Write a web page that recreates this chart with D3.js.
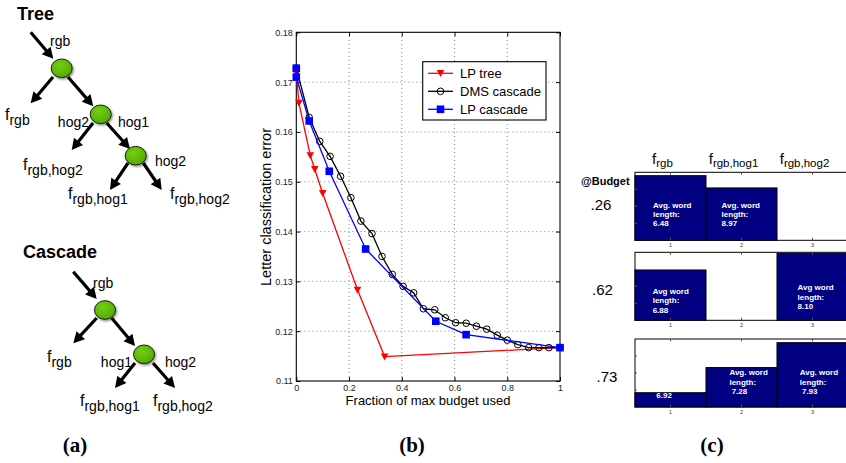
<!DOCTYPE html>
<html><head><meta charset="utf-8">
<script src="https://cdn.jsdelivr.net/npm/d3@7"></script>
<style>
html,body{margin:0;padding:0;background:#fff;}
svg{display:block;font-family:"Liberation Sans",Arial,Helvetica,sans-serif;}
</style></head><body>
<svg id="fig" width="846" height="463"></svg>
<script>
// ================= DATA =================
// Panel (b): error vs. fraction of max budget
const budgetTicks = [0, 0.2, 0.4, 0.6, 0.8, 1];
const budgetTickLabels = ["0", "0.2", "0.4", "0.6", "0.8", "1"];
const errorTicks = [0.11, 0.12, 0.13, 0.14, 0.15, 0.16, 0.17, 0.18];
const errorTickLabels = ["0.11", "0.12", "0.13", "0.14", "0.15", "0.16", "0.17", "0.18"];
const seriesNames = ["LP tree", "DMS cascade", "LP cascade"];
const lpTreeX = [0, 0.010, 0.053, 0.070, 0.100, 0.232, 0.335, 1.0];
const lpTreeY = [0.1717, 0.1658, 0.1553, 0.1525, 0.1477, 0.1283, 0.1149, 0.1167];
const dmsX = [0, 0.049, 0.089, 0.128, 0.168, 0.207, 0.245, 0.287, 0.325, 0.364, 0.405, 0.445, 0.482,
              0.525, 0.565, 0.604, 0.644, 0.683, 0.722, 0.762, 0.800, 0.840, 0.881, 0.920, 0.958, 1.0];
const dmsY = [0.1728, 0.1629, 0.1581, 0.1551, 0.1511, 0.1468, 0.1421, 0.1396, 0.1350, 0.1314, 0.1290, 0.1277, 0.1245,
              0.1243, 0.1227, 0.1217, 0.1216, 0.1210, 0.1204, 0.1192, 0.1182, 0.1173, 0.1167, 0.1167, 0.1167, 0.1167];
const lpCascadeX = [0, 0, 0.049, 0.125, 0.263, 0.529, 0.644, 1.0];
const lpCascadeY = [0.1728, 0.1710, 0.1622, 0.1521, 0.1365, 0.1220, 0.1193, 0.1167];

// Panel (c): fraction of examples reaching each leaf at three budgets
const leafCategories = [1, 2, 3];
const leafSubscripts = ["rgb", "rgb,hog1", "rgb,hog2"];
const budgetLabels = [".26", ".62", ".73"];
const leafFrac26 = [0.95, 0.77, 0];
const leafFrac62 = [0.74, 0, 0.985];
const leafFrac73 = [0.21, 0.58, 0.946];
const wordText26 = [["Avg. word", "length:", "6.48"], ["Avg. word", "length:", "8.97"], null];
const wordText62 = [["Avg word", "length:", "6.88"], null, ["Avg word", "length:", "8.10"]];
const wordText73 = [["6.92"], ["Avg. word", "length:", " 7.28"], ["Avg. word", "length:", " 7.93"]];

// Panel (a): diagram structure
const treeNodes = [{id:"t1", x:61.7, y:68.3}, {id:"t2", x:100.7, y:114.3}, {id:"t3", x:135.7, y:155.7}];
const cascNodes = [{id:"c1", x:105, y:310}, {id:"c2", x:144, y:354.3}];

// ================= LAYOUT =================
const svg = d3.select("#fig");
const FONT = '"Liberation Sans",Arial,Helvetica,sans-serif';
const SERIF = '"Liberation Serif","DejaVu Serif",serif';

// ---------- Panel (a) ----------
const gA = svg.append("g");
const arrowsA = [
  [30.7, 32.3, 53.3, 58.8], [53, 77, 30.7, 103.3], [68, 77, 93.3, 106.2],
  [93, 123, 71.7, 150], [106.7, 123, 130, 149], [128, 163, 110, 190], [143.3, 163, 161.7, 190],
  [73.3, 271.7, 96.7, 299], [96.7, 318, 73.3, 343.3], [111.7, 318, 135, 346],
  [135, 363, 115, 388], [153, 363, 175, 388]
];
function arrow(g, a) {
  const [x1, y1, x2, y2] = a;
  const dx = x2 - x1, dy = y2 - y1, L = Math.hypot(dx, dy);
  const ux = dx / L, uy = dy / L, hl = 11, hw = 5.8;
  const bx = x2 - ux * hl, by = y2 - uy * hl;
  g.append("line").attr("x1", x1).attr("y1", y1).attr("x2", bx + ux).attr("y2", by + uy)
    .attr("stroke", "#000").attr("stroke-width", 3.2);
  g.append("path").attr("d", `M${x2},${y2}L${bx - uy * hw},${by + ux * hw}L${bx + uy * hw},${by - ux * hw}Z`)
    .attr("fill", "#000");
}
arrowsA.forEach(a => arrow(gA, a));
const defs = svg.append("defs");
const flt = defs.append("filter").attr("id", "shadow").attr("x", "-50%").attr("y", "-50%").attr("width", "200%").attr("height", "200%");
flt.append("feDropShadow").attr("dx", 1.2).attr("dy", 1.5).attr("stdDeviation", 1.3).attr("flood-color", "#000").attr("flood-opacity", 0.45);
const grad = defs.append("radialGradient").attr("id", "nodeFill").attr("cx", "40%").attr("cy", "35%").attr("r", "70%");
grad.append("stop").attr("offset", "0%").attr("stop-color", "#74d010");
grad.append("stop").attr("offset", "100%").attr("stop-color", "#52a800");
gA.selectAll("ellipse.node").data(treeNodes.concat(cascNodes)).join("ellipse")
  .attr("cx", d => d.x).attr("cy", d => d.y).attr("rx", 10.5).attr("ry", 9.3)
  .attr("fill", "url(#nodeFill)").attr("stroke", "#1a1a1a").attr("stroke-width", 1)
  .attr("filter", "url(#shadow)");

function plain(g, x, y, t, size, anchor) {
  g.append("text").attr("x", x).attr("y", y).attr("font-size", size).attr("text-anchor", anchor || "start")
    .attr("font-family", FONT).attr("fill", "#000").text(t);
}
function fsub(g, x, y, sub, fSize, sSize, shift, anchor) {
  const t = g.append("text").attr("x", x).attr("y", y).attr("font-family", FONT).attr("fill", "#000")
    .attr("text-anchor", anchor || "start");
  t.append("tspan").attr("font-size", fSize).text("f");
  t.append("tspan").attr("font-size", sSize).attr("dy", shift).text(sub);
}
gA.append("text").attr("x", 17).attr("y", 20).attr("font-size", 18).attr("font-weight", "bold")
  .attr("font-family", FONT).text("Tree");
plain(gA, 50, 46, "rgb", 14);
fsub(gA, 5, 120, "rgb", 16, 14, 5);
plain(gA, 89, 127, "hog2", 14, "end");
plain(gA, 118, 127, "hog1", 14);
fsub(gA, 23, 170, "rgb,hog2", 16, 14, 5);
plain(gA, 155, 166, "hog2", 14);
fsub(gA, 68, 199, "rgb,hog1", 16, 14, 5);
fsub(gA, 170, 199, "rgb,hog2", 16, 14, 5);

gA.append("text").attr("x", 23).attr("y", 258).attr("font-size", 18).attr("font-weight", "bold")
  .attr("font-family", FONT).text("Cascade");
plain(gA, 93, 288, "rgb", 14);
fsub(gA, 47, 362, "rgb", 16, 14, 5);
plain(gA, 132, 367, "hog1", 14, "end");
plain(gA, 165, 367, "hog2", 14);
fsub(gA, 80, 406, "rgb,hog1", 16, 14, 5);
fsub(gA, 153, 406, "rgb,hog2", 16, 14, 5);

// ---------- Panel (b) ----------
const gB = svg.append("g");
const xB = d3.scaleLinear().domain([0, 1]).range([296.3, 560]);
const yB = d3.scaleLinear().domain([0.11, 0.18]).range([381, 32.3]);
// grid
gB.append("g").selectAll("line").data(budgetTicks.slice(1, -1)).join("line")
  .attr("x1", d => xB(d)).attr("x2", d => xB(d)).attr("y1", yB(0.11)).attr("y2", yB(0.18))
  .attr("stroke", "#777").attr("stroke-width", 0.9).attr("stroke-dasharray", "1,3");
gB.append("g").selectAll("line").data(errorTicks.slice(1, -1)).join("line")
  .attr("y1", d => yB(d)).attr("y2", d => yB(d)).attr("x1", xB(0)).attr("x2", xB(1))
  .attr("stroke", "#777").attr("stroke-width", 0.9).attr("stroke-dasharray", "1,3");
// axes
const axL = gB.append("g").attr("transform", `translate(${xB(0)},0)`)
  .call(d3.axisLeft(yB).tickValues(errorTicks).tickFormat((d, i) => errorTickLabels[i]).tickSize(-4).tickPadding(3.5));
const axBt = gB.append("g").attr("transform", `translate(0,${yB(0.11)})`)
  .call(d3.axisBottom(xB).tickValues(budgetTicks).tickFormat((d, i) => budgetTickLabels[i]).tickSize(-4).tickPadding(3.5));
const axR = gB.append("g").attr("transform", `translate(${xB(1)},0)`)
  .call(d3.axisRight(yB).tickValues(errorTicks).tickFormat("").tickSize(-4));
const axT = gB.append("g").attr("transform", `translate(0,${yB(0.18)})`)
  .call(d3.axisTop(xB).tickValues(budgetTicks).tickFormat("").tickSize(-4));
[axL, axBt, axR, axT].forEach(a => {
  a.select(".domain").remove();
  a.selectAll("line").attr("stroke", "#000").attr("stroke-width", 1);
  a.selectAll("text").attr("font-size", 9).attr("font-family", FONT).attr("fill", "#222");
});
gB.append("rect").attr("x", xB(0)).attr("y", yB(0.18)).attr("width", xB(1) - xB(0)).attr("height", yB(0.11) - yB(0.18))
  .attr("fill", "none").attr("stroke", "#000").attr("stroke-width", 1.1);

const lineGen = d3.line().x(d => xB(d[0])).y(d => yB(d[1]));
const seriesData = [
  {name: seriesNames[0], pts: d3.zip(lpTreeX, lpTreeY), color: "#ff0000", mk: "tri"},
  {name: seriesNames[1], pts: d3.zip(dmsX, dmsY), color: "#000000", mk: "circ"},
  {name: seriesNames[2], pts: d3.zip(lpCascadeX, lpCascadeY), color: "#0000ff", mk: "sq"}
];
function marker(g, s, cx, cy) {
  if (s.mk === "tri") {
    g.append("path").attr("d", `M${cx - 3.8},${cy - 3.2}L${cx + 3.8},${cy - 3.2}L${cx},${cy + 3.8}Z`).attr("fill", s.color);
  } else if (s.mk === "circ") {
    g.append("circle").attr("cx", cx).attr("cy", cy).attr("r", 3.3).attr("fill", "none").attr("stroke", s.color).attr("stroke-width", 1);
  } else {
    g.append("rect").attr("x", cx - 3.8).attr("y", cy - 3.8).attr("width", 7.6).attr("height", 7.6).attr("fill", s.color);
  }
}
seriesData.forEach(s => {
  const g = gB.append("g");
  g.append("path").attr("d", lineGen(s.pts)).attr("fill", "none").attr("stroke", s.color).attr("stroke-width", 1.3);
  s.pts.forEach(p => marker(g, s, xB(p[0]), yB(p[1])));
});
// legend
const lg = gB.append("g");
lg.append("rect").attr("x", 422.7).attr("y", 61.7).attr("width", 123.3).attr("height", 58.3)
  .attr("fill", "#fff").attr("stroke", "#000").attr("stroke-width", 1.1);
seriesData.forEach((s, i) => {
  const yy = 73.3 + i * 18;
  lg.append("line").attr("x1", 428).attr("x2", 453).attr("y1", yy).attr("y2", yy).attr("stroke", s.color).attr("stroke-width", 1.3);
  marker(lg, s, 440.5, yy);
  lg.append("text").attr("x", 460).attr("y", yy + 4.6).attr("font-size", 13).attr("font-family", FONT).text(s.name);
});
// axis labels
gB.append("text").attr("x", 428).attr("y", 405).attr("text-anchor", "middle").attr("font-size", 13)
  .attr("font-family", FONT).text("Fraction of max budget used");
gB.append("text").attr("transform", "translate(271,207) rotate(-90)").attr("text-anchor", "middle").attr("font-size", 14.5)
  .attr("font-family", FONT).text("Letter classification error");

// ---------- Panel (c) ----------
const gC = svg.append("g");
const xC = d3.scaleLinear().domain([0.5, 3.5]).range([635, 848]);
const rowTops = [172.3, 252.3, 339];
const rowH = 68;
const rowFracs = [leafFrac26, leafFrac62, leafFrac73];
const rowTexts = [wordText26, wordText62, wordText73];
const rowTextPos = [
  [[0.754, 0.48], [1.72, 0.48], null],
  [[0.749, 0.39], null, [2.79, 0.44]],
  [[0.80, 0.13], [1.83, 0.466], [2.82, 0.466]]
];
const budgetLabelX = [601, 602.5, 607];
const budgetLabelDy = [38, 42.7, 42.7];

gC.append("text").attr("x", 581).attr("y", 185).attr("font-size", 11).attr("font-weight", "bold")
  .attr("font-family", FONT).text("@Budget");
leafCategories.forEach((c, i) => {
  fsub(gC, xC(c) - 8, 164, leafSubscripts[i], 15, 11.5, 2.5, "middle");
});
rowFracs.forEach((fr, r) => {
  const top = rowTops[r];
  const yC = d3.scaleLinear().domain([0, 1]).range([top + rowH, top]);
  const g = gC.append("g");
  g.append("rect").attr("x", xC(0.5)).attr("y", top).attr("width", xC(3.5) - xC(0.5)).attr("height", rowH)
    .attr("fill", "#fff").attr("stroke", "#000").attr("stroke-width", 1);
  g.selectAll("rect.bar").data(leafCategories).join("rect").attr("class", "bar")
    .attr("x", d => xC(d - 0.5)).attr("width", d => xC(d + 0.5) - xC(d - 0.5))
    .attr("y", (d, i) => yC(fr[i])).attr("height", (d, i) => yC(0) - yC(fr[i]))
    .attr("fill", "#000080").attr("stroke", "#000").attr("stroke-width", 1)
    .style("display", (d, i) => fr[i] > 0 ? null : "none");
  // ticks
  leafCategories.forEach(c => {
    g.append("line").attr("x1", xC(c)).attr("x2", xC(c)).attr("y1", top).attr("y2", top + 2.5).attr("stroke", "#555");
    g.append("line").attr("x1", xC(c)).attr("x2", xC(c)).attr("y1", top + rowH).attr("y2", top + rowH - 2.5).attr("stroke", "#555");
    g.append("text").attr("x", xC(c)).attr("y", top + rowH + 7).attr("text-anchor", "middle").attr("font-size", 5.5)
      .attr("font-family", FONT).attr("fill", "#333").text(c);
  });
  [0.25, 0.5, 0.75].forEach(v => g.append("line").attr("x1", xC(0.5)).attr("x2", xC(0.5) + 2).attr("y1", yC(v)).attr("y2", yC(v)).attr("stroke", "#555"));
  // word-length annotations
  rowTexts[r].forEach((lines, i) => {
    if (!lines) return;
    const [px, py] = rowTextPos[r][i];
    const t = g.append("text").attr("font-size", 8).attr("font-weight", "bold").attr("font-family", FONT)
      .attr("fill", "#fff").style("white-space", "pre");
    lines.forEach((ln, k) => t.append("tspan").attr("x", xC(px)).attr("y", yC(py) + k * 9.4).text(ln));
  });
  gC.append("text").attr("x", budgetLabelX[r]).attr("y", top + budgetLabelDy[r]).attr("text-anchor", "middle").attr("font-size", 15)
    .attr("font-family", FONT).text(budgetLabels[r]);
});

// ---------- panel captions ----------
[["(a)", 75], ["(b)", 412], ["(c)", 712]].forEach(([t, x]) => {
  svg.append("text").attr("x", x).attr("y", 452).attr("text-anchor", "middle").attr("font-size", 21)
    .attr("font-weight", "bold").attr("font-family", SERIF).text(t);
});
</script>
</body></html>
